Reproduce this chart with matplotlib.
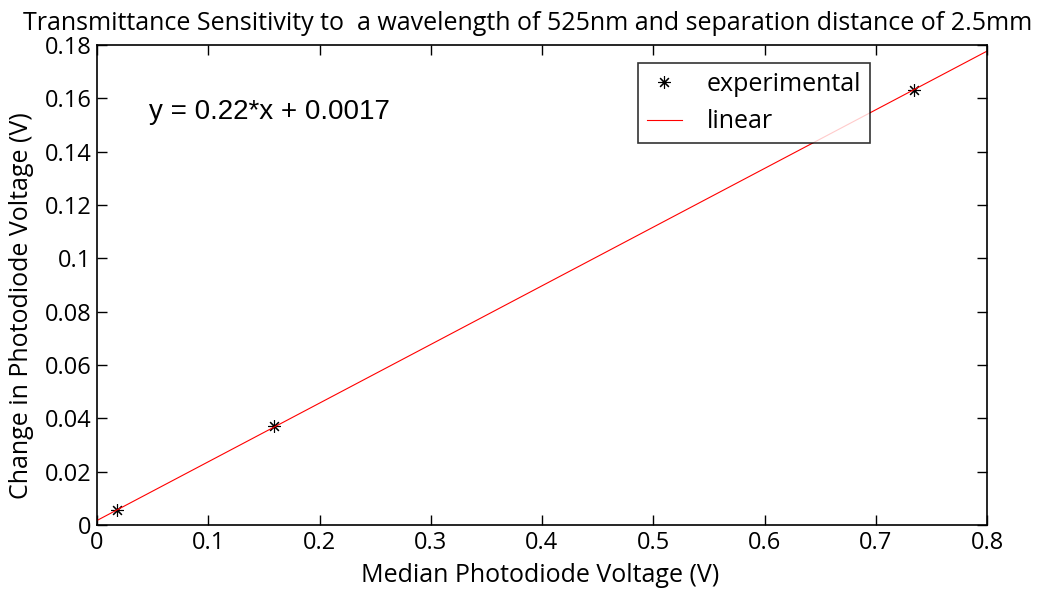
import matplotlib
matplotlib.use("Agg")
import matplotlib.pyplot as plt
import numpy as np

# measured points and least-squares fit
median_v = [0.018, 0.159, 0.734]
delta_v = [0.0055, 0.037, 0.163]
slope = 0.22
intercept = 0.0017
fit_x = [0.0, 0.8]
fit_y = [slope * x + intercept for x in fit_x]

FONT = "Open Sans"

fig = plt.figure(figsize=(10.54, 5.92), dpi=100)
ax = fig.add_axes([97 / 1054, 1 - 525 / 592, 890 / 1054, 480 / 592])

ax.plot(median_v, delta_v, linestyle="none", marker=(8, 2, 0), color="black",
        ms=9, mew=0.8, label="experimental")
ax.plot(fit_x, fit_y, "-", color="red", lw=0.8, label="linear")

ax.set_xlim(0, 0.8)
ax.set_ylim(0, 0.18)
ax.set_xticks(np.arange(0, 0.81, 0.1))
ax.set_yticks(np.arange(0, 0.181, 0.02))
ax.set_xticklabels(["0", "0.1", "0.2", "0.3", "0.4", "0.5", "0.6", "0.7", "0.8"])
ax.set_yticklabels(["0", "0.02", "0.04", "0.06", "0.08", "0.1", "0.12", "0.14", "0.16", "0.18"])
ax.tick_params(direction="in", top=True, right=True, length=7, width=1,
               labelsize=17, pad=4)
for lbl in ax.get_xticklabels() + ax.get_yticklabels():
    lbl.set_fontfamily(FONT)
for s in ax.spines.values():
    s.set_linewidth(1.2)

ax.set_xlabel("Median Photodiode Voltage (V)", fontsize=18, family=FONT)
ax.xaxis.set_label_coords(0.498, -0.079)
ax.set_ylabel("Change in Photodiode Voltage (V)", fontsize=18, family=FONT)
ax.yaxis.set_label_coords(-0.071, 0.458)

fig.text(528 / 1054, 1 - 23 / 592,
         "Transmittance Sensitivity to  a wavelength of 525nm and separation distance of 2.5mm",
         fontsize=18, family=FONT, ha="center", va="center")

ax.text(0.047, 0.155, "y = 0.22*x + 0.0017", fontsize=20, family="Liberation Sans",
        ha="left", va="center")

leg = ax.legend(loc="upper left", bbox_to_anchor=(541 / 890, 1 - 18 / 480),
                prop={"family": FONT, "size": 18}, frameon=True, fancybox=False,
                edgecolor="black", borderpad=0.35, handlelength=1.4,
                labelspacing=0.5, handletextpad=1.0, borderaxespad=0)
leg.get_frame().set_linewidth(1.2)

fig.savefig("out.png", dpi=100, facecolor="white")
